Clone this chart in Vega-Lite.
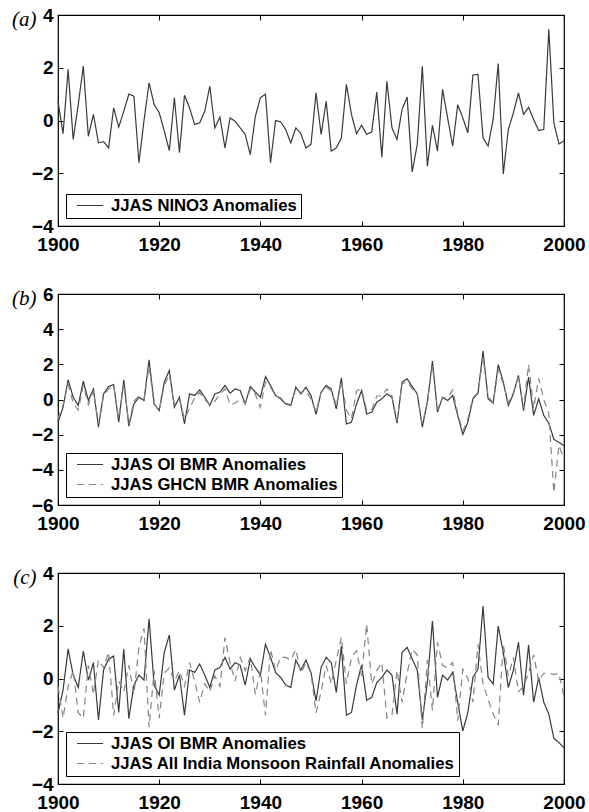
{
"$schema": "https://vega.github.io/schema/vega-lite/v6.json",
"padding": {"left": 10, "top": 5, "right": 0, "bottom": 0},
"background": "white",
"datasets": {"rows": [
{"year":1900,"nino3":0.73,"oi":-1.3,"ghcn":-1.1,"aimr":-0.3},
{"year":1901,"nino3":-0.5,"oi":-0.44,"ghcn":-0.3,"aimr":-1.5},
{"year":1902,"nino3":1.94,"oi":1.12,"ghcn":0.9,"aimr":-0.3},
{"year":1903,"nino3":-0.72,"oi":0.13,"ghcn":-0.2,"aimr":0.3},
{"year":1904,"nino3":0.6,"oi":-0.34,"ghcn":-0.6,"aimr":-1.3},
{"year":1905,"nino3":2.06,"oi":1.04,"ghcn":0.8,"aimr":-1.5},
{"year":1906,"nino3":-0.6,"oi":-0.06,"ghcn":-0.3,"aimr":0.5},
{"year":1907,"nino3":0.23,"oi":0.6,"ghcn":0.5,"aimr":-0.6},
{"year":1908,"nino3":-0.85,"oi":-1.57,"ghcn":-1.4,"aimr":0.7},
{"year":1909,"nino3":-0.8,"oi":0.32,"ghcn":0.2,"aimr":0.4},
{"year":1910,"nino3":-1.04,"oi":0.74,"ghcn":0.6,"aimr":1.0},
{"year":1911,"nino3":0.48,"oi":0.85,"ghcn":0.8,"aimr":-1.4},
{"year":1912,"nino3":-0.25,"oi":-1.29,"ghcn":-1.1,"aimr":-0.1},
{"year":1913,"nino3":0.35,"oi":1.12,"ghcn":0.9,"aimr":-0.5},
{"year":1914,"nino3":1.0,"oi":-1.52,"ghcn":-1.4,"aimr":0.5},
{"year":1915,"nino3":0.92,"oi":-0.25,"ghcn":-0.1,"aimr":-0.6},
{"year":1916,"nino3":-1.6,"oi":0.13,"ghcn":0.2,"aimr":1.2},
{"year":1917,"nino3":0.0,"oi":-0.06,"ghcn":0.0,"aimr":1.9},
{"year":1918,"nino3":1.43,"oi":2.26,"ghcn":1.9,"aimr":-1.85},
{"year":1919,"nino3":0.6,"oi":-0.25,"ghcn":-0.3,"aimr":0.3},
{"year":1920,"nino3":0.3,"oi":-0.63,"ghcn":-0.6,"aimr":-1.5},
{"year":1921,"nino3":-0.4,"oi":0.99,"ghcn":0.8,"aimr":0.2},
{"year":1922,"nino3":-1.14,"oi":1.65,"ghcn":1.4,"aimr":0.4},
{"year":1923,"nino3":0.86,"oi":-0.44,"ghcn":-0.3,"aimr":-0.1},
{"year":1924,"nino3":-1.22,"oi":0.13,"ghcn":0.0,"aimr":0.3},
{"year":1925,"nino3":0.96,"oi":-1.39,"ghcn":-1.1,"aimr":-0.3},
{"year":1926,"nino3":0.48,"oi":0.32,"ghcn":-0.5,"aimr":0.6},
{"year":1927,"nino3":-0.15,"oi":0.23,"ghcn":0.1,"aimr":-0.1},
{"year":1928,"nino3":-0.09,"oi":0.55,"ghcn":0.4,"aimr":-0.9},
{"year":1929,"nino3":0.35,"oi":0.13,"ghcn":0.0,"aimr":-0.2},
{"year":1930,"nino3":1.3,"oi":-0.34,"ghcn":-0.3,"aimr":-0.5},
{"year":1931,"nino3":-0.28,"oi":0.32,"ghcn":-0.1,"aimr":0.1},
{"year":1932,"nino3":0.13,"oi":0.42,"ghcn":0.3,"aimr":-0.3},
{"year":1933,"nino3":-1.04,"oi":0.8,"ghcn":0.6,"aimr":1.55},
{"year":1934,"nino3":0.1,"oi":0.36,"ghcn":-0.3,"aimr":0.6},
{"year":1935,"nino3":-0.03,"oi":0.6,"ghcn":-0.2,"aimr":-0.1},
{"year":1936,"nino3":-0.28,"oi":0.51,"ghcn":0.0,"aimr":0.8},
{"year":1937,"nino3":-0.53,"oi":-0.25,"ghcn":-0.2,"aimr":0.3},
{"year":1938,"nino3":-1.3,"oi":0.74,"ghcn":0.6,"aimr":0.8},
{"year":1939,"nino3":0.16,"oi":0.42,"ghcn":0.3,"aimr":-0.6},
{"year":1940,"nino3":0.86,"oi":0.13,"ghcn":-0.45,"aimr":0.3},
{"year":1941,"nino3":1.0,"oi":1.3,"ghcn":1.0,"aimr":-1.4},
{"year":1942,"nino3":-1.6,"oi":0.8,"ghcn":0.7,"aimr":1.1},
{"year":1943,"nino3":0.0,"oi":0.23,"ghcn":0.2,"aimr":0.3},
{"year":1944,"nino3":-0.05,"oi":0.04,"ghcn":0.1,"aimr":0.8},
{"year":1945,"nino3":-0.34,"oi":-0.25,"ghcn":-0.2,"aimr":0.8},
{"year":1946,"nino3":-0.85,"oi":-0.34,"ghcn":-0.3,"aimr":0.7},
{"year":1947,"nino3":-0.28,"oi":0.7,"ghcn":0.6,"aimr":1.1},
{"year":1948,"nino3":-0.5,"oi":0.32,"ghcn":0.4,"aimr":0.2},
{"year":1949,"nino3":-1.04,"oi":0.7,"ghcn":0.5,"aimr":0.6},
{"year":1950,"nino3":-0.9,"oi":0.23,"ghcn":0.0,"aimr":0.2},
{"year":1951,"nino3":1.05,"oi":-0.85,"ghcn":-0.7,"aimr":-1.3},
{"year":1952,"nino3":-0.53,"oi":0.42,"ghcn":0.4,"aimr":-0.5},
{"year":1953,"nino3":0.73,"oi":0.8,"ghcn":0.7,"aimr":0.5},
{"year":1954,"nino3":-1.16,"oi":0.6,"ghcn":0.5,"aimr":-0.2},
{"year":1955,"nino3":-1.04,"oi":-0.53,"ghcn":-0.3,"aimr":0.7},
{"year":1956,"nino3":-0.66,"oi":1.23,"ghcn":1.0,"aimr":1.56},
{"year":1957,"nino3":1.37,"oi":-1.39,"ghcn":-0.6,"aimr":-0.2},
{"year":1958,"nino3":0.23,"oi":-1.29,"ghcn":-1.1,"aimr":0.8},
{"year":1959,"nino3":-0.5,"oi":-0.25,"ghcn":0.5,"aimr":1.05},
{"year":1960,"nino3":-0.18,"oi":0.51,"ghcn":0.6,"aimr":0.1},
{"year":1961,"nino3":-0.53,"oi":-0.82,"ghcn":-0.6,"aimr":2.06},
{"year":1962,"nino3":-0.43,"oi":-0.72,"ghcn":-0.6,"aimr":-0.2},
{"year":1963,"nino3":1.08,"oi":-0.15,"ghcn":0.2,"aimr":0.3},
{"year":1964,"nino3":-1.39,"oi":0.04,"ghcn":0.2,"aimr":0.6},
{"year":1965,"nino3":1.49,"oi":0.32,"ghcn":0.6,"aimr":-1.5},
{"year":1966,"nino3":-0.28,"oi":0.13,"ghcn":0.2,"aimr":-1.4},
{"year":1967,"nino3":-0.72,"oi":-1.35,"ghcn":-1.2,"aimr":0.3},
{"year":1968,"nino3":0.42,"oi":0.99,"ghcn":0.9,"aimr":-0.9},
{"year":1969,"nino3":0.89,"oi":1.18,"ghcn":1.0,"aimr":0.2},
{"year":1970,"nino3":-1.95,"oi":0.74,"ghcn":0.6,"aimr":1.1},
{"year":1971,"nino3":-0.91,"oi":0.32,"ghcn":0.3,"aimr":0.9},
{"year":1972,"nino3":2.06,"oi":-1.57,"ghcn":-1.4,"aimr":-1.9},
{"year":1973,"nino3":-1.73,"oi":-0.15,"ghcn":-0.1,"aimr":0.7},
{"year":1974,"nino3":-0.18,"oi":2.18,"ghcn":1.9,"aimr":-1.2},
{"year":1975,"nino3":-1.16,"oi":-0.72,"ghcn":-0.6,"aimr":1.37},
{"year":1976,"nino3":1.18,"oi":0.13,"ghcn":0.1,"aimr":0.5},
{"year":1977,"nino3":0.1,"oi":-0.06,"ghcn":0.1,"aimr":0.4},
{"year":1978,"nino3":-0.97,"oi":0.23,"ghcn":0.55,"aimr":0.6},
{"year":1979,"nino3":0.6,"oi":-0.91,"ghcn":-0.8,"aimr":-1.6},
{"year":1980,"nino3":0.1,"oi":-1.99,"ghcn":-1.8,"aimr":0.35},
{"year":1981,"nino3":-0.47,"oi":-1.29,"ghcn":-1.1,"aimr":0.0},
{"year":1982,"nino3":1.72,"oi":0.04,"ghcn":0.1,"aimr":-0.9},
{"year":1983,"nino3":1.75,"oi":0.36,"ghcn":0.4,"aimr":1.3},
{"year":1984,"nino3":-0.66,"oi":2.75,"ghcn":2.4,"aimr":-0.2},
{"year":1985,"nino3":-0.97,"oi":0.04,"ghcn":0.2,"aimr":-0.8},
{"year":1986,"nino3":0.04,"oi":-0.21,"ghcn":-0.2,"aimr":-1.35},
{"year":1987,"nino3":2.16,"oi":1.99,"ghcn":1.7,"aimr":-1.75},
{"year":1988,"nino3":-2.03,"oi":0.99,"ghcn":0.9,"aimr":1.3},
{"year":1989,"nino3":-0.34,"oi":-0.34,"ghcn":-0.2,"aimr":0.1},
{"year":1990,"nino3":0.29,"oi":0.32,"ghcn":0.4,"aimr":0.8},
{"year":1991,"nino3":1.05,"oi":1.37,"ghcn":1.3,"aimr":-0.5},
{"year":1992,"nino3":0.23,"oi":-0.63,"ghcn":-0.5,"aimr":-0.3},
{"year":1993,"nino3":0.5,"oi":1.27,"ghcn":1.99,"aimr":0.2},
{"year":1994,"nino3":0.04,"oi":-0.9,"ghcn":-0.5,"aimr":0.9},
{"year":1995,"nino3":-0.38,"oi":0.04,"ghcn":1.2,"aimr":-0.1},
{"year":1996,"nino3":-0.34,"oi":-0.9,"ghcn":0.0,"aimr":0.2},
{"year":1997,"nino3":3.46,"oi":-1.35,"ghcn":-0.8,"aimr":0.2},
{"year":1998,"nino3":-0.09,"oi":-2.27,"ghcn":-5.3,"aimr":0.15},
{"year":1999,"nino3":-0.89,"oi":-2.43,"ghcn":-2.6,"aimr":0.2},
{"year":2000,"nino3":-0.78,"oi":-2.63,"ghcn":-3.4,"aimr":-0.7}
]},
"vconcat": [
{
 "width": 506, "height": 211,
 "data": {"name": "rows"},
 "transform": [{"fold": ["nino3"], "as": ["series", "value"]}],
 "layer": [
  {"mark": {"type": "line", "strokeWidth": 1.2},
   "encoding": {
    "x": {"field": "year", "type": "quantitative", "scale": {"domain": [1900, 2000], "nice": false, "zero": false},
          "axis": {"orient": "bottom", "values": [1900,1920,1940,1960,1980,2000], "format": "d", "labelPadding": 14, "title": null}},
    "y": {"field": "value", "type": "quantitative", "scale": {"domain": [-4, 4], "nice": false},
          "axis": {"orient": "left", "values": [-4,-2,0,2,4], "format": "d", "labelPadding": 10, "title": "(a)", "titleAngle": 0, "titleAlign": "right", "titleBaseline": "middle", "titleX": -22, "titleY": 4}},
    "color": {"field": "series", "type": "nominal", "scale": {"domain": ["nino3"], "range": ["#3a3a3a"]},
              "legend": {"title": null, "orient": "bottom-left", "offset": 8, "labelExpr": "'JJAS NINO3 Anomalies'"}},
    "strokeDash": {"field": "series", "type": "nominal", "scale": {"domain": ["nino3"], "range": [[1, 0]]},
              "legend": {"title": null, "orient": "bottom-left", "offset": 8, "labelExpr": "'JJAS NINO3 Anomalies'"}}
   }},
  {"mark": {"type": "point", "opacity": 0},
   "encoding": {
    "x": {"field": "year", "type": "quantitative", "axis": {"orient": "top", "labels": false, "values": [1900,1920,1940,1960,1980,2000], "title": null}},
    "y": {"field": "value", "type": "quantitative", "axis": {"orient": "right", "labels": false, "values": [-4,-2,0,2,4], "title": null}}
   }}
 ],
 "resolve": {"axis": {"x": "independent", "y": "independent"}}
},
{
 "width": 506, "height": 211,
 "data": {"name": "rows"},
 "transform": [{"fold": ["oi", "ghcn"], "as": ["series", "value"]}],
 "layer": [
  {"mark": {"type": "line", "strokeWidth": 1.2},
   "encoding": {
    "x": {"field": "year", "type": "quantitative", "scale": {"domain": [1900, 2000], "nice": false, "zero": false},
          "axis": {"orient": "bottom", "values": [1900,1920,1940,1960,1980,2000], "format": "d", "labelPadding": 14, "title": null}},
    "y": {"field": "value", "type": "quantitative", "scale": {"domain": [-6, 6], "nice": false},
          "axis": {"orient": "left", "values": [-6,-4,-2,0,2,4,6], "format": "d", "labelPadding": 10, "title": "(b)", "titleAngle": 0, "titleAlign": "right", "titleBaseline": "middle", "titleX": -22, "titleY": 4}},
    "color": {"field": "series", "type": "nominal", "scale": {"domain": ["oi", "ghcn"], "range": ["#3a3a3a", "#858585"]},
              "legend": {"title": null, "orient": "bottom-left", "offset": 8, "labelExpr": "datum.label == 'oi' ? 'JJAS OI BMR Anomalies' : 'JJAS GHCN BMR Anomalies'"}},
    "strokeDash": {"field": "series", "type": "nominal", "scale": {"domain": ["oi", "ghcn"], "range": [[1, 0], [7, 5]]},
              "legend": {"title": null, "orient": "bottom-left", "offset": 8, "labelExpr": "datum.label == 'oi' ? 'JJAS OI BMR Anomalies' : 'JJAS GHCN BMR Anomalies'"}}
   }},
  {"mark": {"type": "point", "opacity": 0},
   "encoding": {
    "x": {"field": "year", "type": "quantitative", "axis": {"orient": "top", "labels": false, "values": [1900,1920,1940,1960,1980,2000], "title": null}},
    "y": {"field": "value", "type": "quantitative", "axis": {"orient": "right", "labels": false, "values": [-6,-4,-2,0,2,4,6], "title": null}}
   }}
 ],
 "resolve": {"axis": {"x": "independent", "y": "independent"}}
},
{
 "width": 506, "height": 211,
 "data": {"name": "rows"},
 "transform": [{"fold": ["oi", "aimr"], "as": ["series", "value"]}],
 "layer": [
  {"mark": {"type": "line", "strokeWidth": 1.2},
   "encoding": {
    "x": {"field": "year", "type": "quantitative", "scale": {"domain": [1900, 2000], "nice": false, "zero": false},
          "axis": {"orient": "bottom", "values": [1900,1920,1940,1960,1980,2000], "format": "d", "labelPadding": 14, "title": null}},
    "y": {"field": "value", "type": "quantitative", "scale": {"domain": [-4, 4], "nice": false},
          "axis": {"orient": "left", "values": [-4,-2,0,2,4], "format": "d", "labelPadding": 10, "title": "(c)", "titleAngle": 0, "titleAlign": "right", "titleBaseline": "middle", "titleX": -22, "titleY": 4}},
    "color": {"field": "series", "type": "nominal", "scale": {"domain": ["oi", "aimr"], "range": ["#3a3a3a", "#858585"]},
              "legend": {"title": null, "orient": "bottom-left", "offset": 8, "labelExpr": "datum.label == 'oi' ? 'JJAS OI BMR Anomalies' : 'JJAS All India Monsoon Rainfall Anomalies'"}},
    "strokeDash": {"field": "series", "type": "nominal", "scale": {"domain": ["oi", "aimr"], "range": [[1, 0], [7, 5]]},
              "legend": {"title": null, "orient": "bottom-left", "offset": 8, "labelExpr": "datum.label == 'oi' ? 'JJAS OI BMR Anomalies' : 'JJAS All India Monsoon Rainfall Anomalies'"}}
   }},
  {"mark": {"type": "point", "opacity": 0},
   "encoding": {
    "x": {"field": "year", "type": "quantitative", "axis": {"orient": "top", "labels": false, "values": [1900,1920,1940,1960,1980,2000], "title": null}},
    "y": {"field": "value", "type": "quantitative", "axis": {"orient": "right", "labels": false, "values": [-4,-2,0,2,4], "title": null}}
   }}
 ],
 "resolve": {"axis": {"x": "independent", "y": "independent"}}
}
],
"spacing": 68,
"bounds": "flush",
"resolve": {"scale": {"color": "independent", "strokeDash": "independent", "x": "independent", "y": "independent"}, "legend": {"color": "independent", "strokeDash": "independent"}},
"config": {
 "view": {"stroke": "black", "strokeWidth": 1.2},
 "axis": {"grid": false, "domain": false, "tickSize": -5, "tickColor": "black", "tickWidth": 1,
          "labelFont": "Liberation Sans", "labelFontWeight": "bold", "labelFontSize": 19, "labelColor": "black",
          "labelOverlap": false, "labelBound": false, "labelFlush": false,
          "titleFont": "Liberation Serif", "titleFontStyle": "italic", "titleFontWeight": "normal", "titleFontSize": 21, "titleColor": "black"},
 "legend": {"strokeColor": "black", "fillColor": "white", "padding": 3, "symbolType": "stroke", "symbolSize": 676,
            "symbolStrokeWidth": 1.2, "labelFont": "Liberation Sans", "labelFontWeight": "bold", "labelFontSize": 16.7,
            "labelColor": "black", "labelOffset": 7, "symbolOffset": 7, "rowPadding": 2, "clipHeight": 17, "labelLimit": 600}
}
}
